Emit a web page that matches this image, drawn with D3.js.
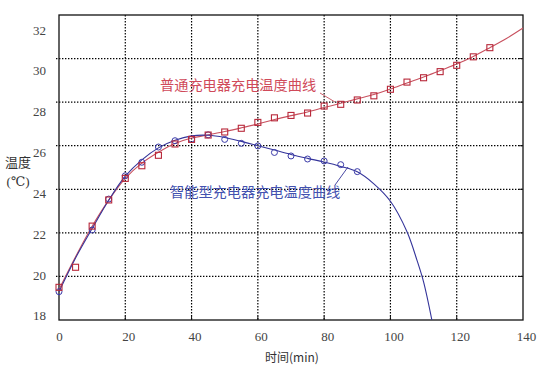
<!DOCTYPE html>
<html><head><meta charset="utf-8">
<script src="https://cdn.jsdelivr.net/npm/d3@7"></script>
<style>
html,body{margin:0;padding:0;background:#fff;}
svg{display:block;}
</style></head>
<body>
<svg id="c" width="555" height="367"></svg>
<script>
// ---- data ----
const xTicks = [0, 20, 40, 60, 80, 100, 120, 140];
const yTicks = [18, 20, 22, 24, 26, 28, 30, 32];

// 普通充电器 measured points (squares)
const normalX = [0,5,10,15,20,25,30,35,40,45,50,55,60,65,70,75,80,85,90,95,100,105,110,115,120,125,130];
const normalY = [19.5,20.42,22.31,23.51,24.5,25.08,25.56,26.08,26.29,26.49,26.63,26.8,27.07,27.28,27.39,27.5,27.82,27.9,28.1,28.29,28.59,28.92,29.12,29.4,29.69,30.08,30.5];
// 普通充电器 fitted curve
const normalFitX = [0,5,10,15,20,25,30,35,40,45,50,55,60,65,70,75,80,85,90,95,100,105,110,115,120,125,130,135,140];
const normalFitY = [19.4,20.9,22.3,23.5,24.5,25.2,25.7,26.1,26.35,26.5,26.65,26.82,27.0,27.2,27.38,27.55,27.75,27.95,28.15,28.35,28.6,28.88,29.15,29.45,29.75,30.1,30.5,30.92,31.4];

// 智能型充电器 measured points (circles)
const smartX = [0,10,15,20,25,30,35,40,45,50,55,60,65,70,75,80,85,90];
const smartY = [19.3,22.13,23.55,24.62,25.24,25.94,26.23,26.3,26.5,26.29,26.11,25.99,25.69,25.53,25.39,25.3,25.13,24.81];
// 智能型充电器 fitted curve
const smartFitX = [0,5,10,15,20,25,30,35,40,45,50,55,60,65,70,75,80,85,90,95,100,105,108,110,112.5];
const smartFitY = [19.3,20.85,22.2,23.5,24.6,25.35,25.9,26.25,26.45,26.48,26.38,26.2,26.0,25.8,25.6,25.42,25.25,25.05,24.8,24.25,23.45,22.05,20.75,19.75,18.0];

const normalLabel = "普通充电器充电温度曲线";
const smartLabel = "智能型充电器充电温度曲线";
const yTitle1 = "温度";
const yTitle2 = "(℃)";
const xTitle = "时间(min)";

// ---- layout ----
const L = 59, R = 523, T = 15, B = 320;
const svg = d3.select("#c");
const x = d3.scaleLinear().domain([0, 140]).range([L, R]);
const y = d3.scaleLinear().domain([18, 32]).range([B, T]);
// tick labels in the original sit on a slightly compressed spacing
const yLab = d3.scaleLinear().domain([18, 32]).range([315.7, 30]);

const redLine = "#c8505e", redMark = "#b8283a", redText = "#d04a5a";
const blueLine = "#34349a", blueMark = "#3a3aa8", blueText = "#4452b0";

// gridlines
const grid = svg.append("g");
grid.selectAll("line.gx").data(xTicks.filter(d => d > 0 && d < 140)).join("line")
  .attr("x1", d => x(d)).attr("x2", d => x(d)).attr("y1", T).attr("y2", B)
  .attr("stroke", "#000").attr("stroke-width", 1.2).attr("stroke-dasharray", "1.4,1.6");
grid.selectAll("line.gy").data(yTicks.filter(d => d > 18 && d < 32)).join("line")
  .attr("y1", d => y(d)).attr("y2", d => y(d)).attr("x1", L - 3).attr("x2", R)
  .attr("stroke", "#000").attr("stroke-width", 1.2).attr("stroke-dasharray", "1.4,1.6");

// inner ticks
const tk = svg.append("g").attr("stroke", "#111").attr("stroke-width", 1);
tk.selectAll("line.bt").data(xTicks.filter(d => d > 0 && d < 140)).join("line")
  .attr("x1", d => x(d)).attr("x2", d => x(d)).attr("y1", B).attr("y2", B - 4);
tk.selectAll("line.rt").data(yTicks.filter(d => d > 18 && d < 32)).join("line")
  .attr("x1", R).attr("x2", R - 4).attr("y1", d => y(d)).attr("y2", d => y(d));

// frame
svg.append("rect").attr("x", L).attr("y", T).attr("width", R - L).attr("height", B - T)
  .attr("fill", "none").attr("stroke", "#111").attr("stroke-width", 1.3);

// axes labels via d3 axes
const axFont = "Liberation Serif, DejaVu Serif, serif";
const ax = svg.append("g").attr("transform", `translate(${L},0)`)
  .call(d3.axisLeft(yLab).tickValues(yTicks).tickSize(0).tickPadding(13).tickFormat(d3.format("d")));
ax.attr("font-family", axFont);
ax.select(".domain").remove();
ax.selectAll("text").style("font-family", axFont).attr("font-size", 13).attr("fill", "#444");

const bx = svg.append("g").attr("transform", `translate(3,${B})`)
  .call(d3.axisBottom(x).tickValues(xTicks).tickSize(0).tickPadding(12).tickFormat(d3.format("d")));
bx.attr("font-family", axFont);
bx.select(".domain").remove();
bx.selectAll("text").style("font-family", axFont).attr("font-size", 13).attr("fill", "#444");
bx.selectAll(".tick").filter(d => d === 0).select("text").attr("dx", -3);

// axis titles
const cjk = "'Noto Sans CJK SC','Noto Sans CJK JP',sans-serif";
svg.append("text").attr("x", 18).attr("y", 167).attr("text-anchor", "middle")
  .attr("font-family", cjk).attr("font-size", 13).attr("fill", "#333").text(yTitle1);
svg.append("text").attr("x", 18).attr("y", 186).attr("text-anchor", "middle")
  .style("font-family", axFont).attr("font-size", 13).attr("fill", "#333").text(yTitle2);
svg.append("text").attr("x", 292).attr("y", 362).attr("text-anchor", "middle")
  .attr("font-family", cjk).attr("font-size", 12).attr("fill", "#333").text(xTitle);

// curves
const line = d3.line().x(d => x(d[0])).y(d => y(d[1])).curve(d3.curveCatmullRom.alpha(0.5));
const normalFit = normalFitX.map((v, i) => [v, normalFitY[i]]);
const smartFit = smartFitX.map((v, i) => [v, smartFitY[i]]);
svg.append("path").datum(normalFit).attr("d", line).attr("fill", "none")
  .attr("stroke", redLine).attr("stroke-width", 1.1);
svg.append("path").datum(smartFit).attr("d", line).attr("fill", "none")
  .attr("stroke", blueLine).attr("stroke-width", 1.1);

// markers
const normalPts = normalX.map((v, i) => [v, normalY[i]]);
const smartPts = smartX.map((v, i) => [v, smartY[i]]);
svg.append("g").selectAll("circle").data(smartPts).join("circle")
  .attr("cx", d => x(d[0])).attr("cy", d => y(d[1])).attr("r", 3)
  .attr("fill", "none").attr("stroke", blueMark).attr("stroke-width", 1);
svg.append("g").selectAll("rect").data(normalPts).join("rect")
  .attr("x", d => x(d[0]) - 3).attr("y", d => y(d[1]) - 3).attr("width", 6).attr("height", 6)
  .attr("fill", "none").attr("stroke", redMark).attr("stroke-width", 1.1);

// annotations
svg.append("text").attr("x", 160).attr("y", 90).attr("font-family", cjk).attr("font-size", 14.2)
  .attr("fill", redText).text(normalLabel);
svg.append("line").attr("x1", 320).attr("y1", 93).attr("x2", 335).attr("y2", 102)
  .attr("stroke", redLine).attr("stroke-width", 0.9);
svg.append("text").attr("x", 170).attr("y", 197).attr("font-family", cjk).attr("font-size", 14.2)
  .attr("fill", blueText).text(smartLabel);
svg.append("line").attr("x1", 335).attr("y1", 185).attr("x2", 348).attr("y2", 167)
  .attr("stroke", blueLine).attr("stroke-width", 0.9);
</script>
</body></html>
